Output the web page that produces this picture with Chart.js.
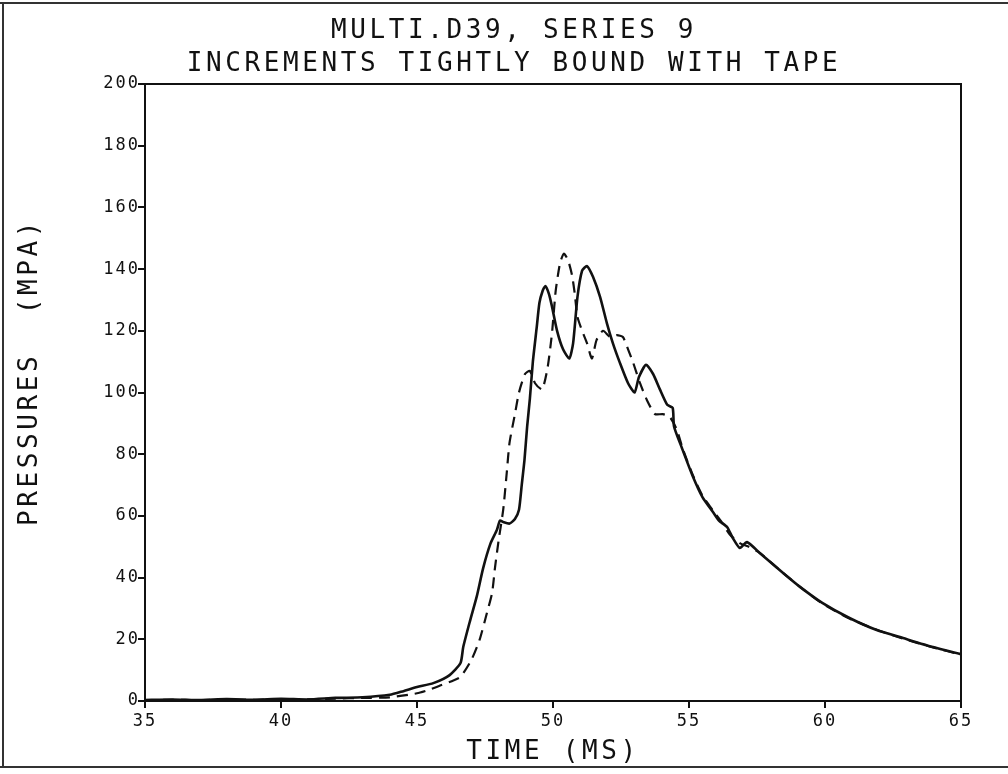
<!DOCTYPE html>
<html>
<head>
<meta charset="utf-8">
<script src="https://cdn.jsdelivr.net/npm/chart.js@4/dist/chart.umd.min.js"></script>
<style>
  html, body { margin: 0; padding: 0; background: #fff; }
  #wrap { width: 1008px; height: 774px; position: relative; }
</style>
</head>
<body>
<div id="wrap"><canvas id="plot" width="1008" height="774"></canvas></div>
<script>
/* ── data ── */
const titleLines = ['MULTI.D39, SERIES 9', 'INCREMENTS TIGHTLY BOUND WITH TAPE'];
const xLabel = 'TIME (MS)';
const yLabel = 'PRESSURES  (MPA)';

const xTicks = [35, 40, 45, 50, 55, 60, 65];
const yTicks = [0, 20, 40, 60, 80, 100, 120, 140, 160, 180, 200];

/* solid trace */
const solidT = [35, 36, 37, 38, 39, 40, 41, 42, 43, 44, 44.5, 45, 45.6, 46.2, 46.6, 46.7, 46.95,
  47.2, 47.43, 47.7, 47.94, 48.05, 48.17, 48.4, 48.6, 48.75, 48.85, 48.95, 49.05, 49.15, 49.26,
  49.4, 49.5, 49.62, 49.72, 49.85, 49.96, 50.15, 50.37, 50.6, 50.74, 50.9, 51.07, 51.25, 51.47,
  51.73, 51.98, 52.2, 52.46, 52.76, 53.0, 53.16, 53.42, 53.68, 53.93, 54.2, 54.4, 54.45, 54.74,
  55.15, 55.5, 55.9, 56.1, 56.4, 56.6, 56.87, 57.13, 57.6, 58.46, 59.08, 59.9, 60.9, 61.9,
  62.87, 63.97, 65];
const solidP = [0.3, 0.5, 0.3, 0.6, 0.4, 0.7, 0.5, 1.0, 1.2, 2.0, 3.2, 4.5, 5.8, 8.4, 12.3, 17.5, 26,
  34, 43, 51, 55.5, 58.5, 58, 57.5, 59, 62, 70, 78, 89, 98, 110,
  121, 129, 133, 134.5, 132, 128, 120, 114, 111, 116, 131, 139.5, 141, 137.5,
  131, 122.5, 116, 109.6, 103, 100, 105, 109, 106, 101, 96, 95, 89, 82,
  72.6, 66, 61, 58.5, 56.4, 53, 49.6, 51.5, 48, 41.5, 37, 31.8, 26.9, 23,
  20.4, 17.5, 15.2];

/* dashed trace */
const dashT = [35, 36, 37, 38, 39, 40, 41, 42, 43, 44, 45, 45.5, 45.85, 46.3, 46.6, 47.0, 47.3,
  47.57, 47.76, 47.87, 48.0, 48.17, 48.3, 48.4, 48.6, 48.75, 48.97, 49.15, 49.34, 49.6, 49.8,
  49.96, 50.1, 50.26, 50.4, 50.55, 50.7, 50.8, 50.9, 51.07, 51.25, 51.43, 51.6, 51.84, 52.1,
  52.35, 52.57, 52.76, 52.95, 53.2, 53.45, 53.75, 54.04, 54.3, 54.55, 54.78, 55.15, 55.5, 55.9,
  56.2, 56.5, 56.9, 57.2, 57.6, 58.46, 59.08, 59.9, 60.9, 61.9, 62.87, 63.97, 65];
const dashP = [0.2, 0.4, 0.3, 0.5, 0.4, 0.6, 0.5, 0.8, 1.0, 1.2, 2.5, 3.8, 5, 6.5, 7.8, 13.3, 19.8,
  28.5, 35, 43.4, 52, 62, 74, 83.6, 93, 100, 106, 107, 103, 101, 108,
  119, 133, 142, 145, 143, 138, 132, 124.5, 120, 116, 111, 117, 120, 118,
  118.6, 118, 114, 109.6, 103, 97.6, 93, 93, 92, 88, 81.5, 73, 66.5, 61.5,
  58, 54, 51, 50, 48, 41.5, 37, 31.6, 26.7, 23.1, 20.2, 17.4, 15];

const toXY = (ts, ps) => ts.map((t, i) => ({ x: t, y: ps[i] }));

const plotFont = '"DejaVu Sans Mono", monospace';

/* wider letter spacing for the axis numbers (plotter look) */
const spacing = {
  id: 'spacing',
  beforeDraw(chart) { chart.ctx.letterSpacing = '2px'; },
};

/* titles, axis names and the outer frame */
const decor = {
  id: 'decor',
  afterDraw(chart) {
    const { ctx, chartArea: a } = chart;
    ctx.save();
    ctx.fillStyle = '#111';
    ctx.textAlign = 'center';
    ctx.textBaseline = 'middle';
    ctx.font = '26px ' + plotFont;
    ctx.letterSpacing = '3.6px';
    ctx.fillText(titleLines[0], 514, 31);
    ctx.fillText(titleLines[1], 514, 64);
    ctx.fillText(xLabel, (a.left + a.right) / 2, 752);

    ctx.translate(30, 372);
    ctx.rotate(-Math.PI / 2);
    ctx.fillText(yLabel, 0, 0);
    ctx.restore();

    /* plot box */
    ctx.save();
    ctx.strokeStyle = '#111';
    ctx.lineWidth = 2;
    ctx.strokeRect(a.left, a.top, a.right - a.left, a.bottom - a.top);

    /* scan border */
    ctx.strokeStyle = '#333';
    ctx.lineWidth = 2;
    ctx.beginPath();
    ctx.moveTo(0, 3); ctx.lineTo(1008, 3);
    ctx.moveTo(0, 767); ctx.lineTo(1008, 767);
    ctx.moveTo(3, 3); ctx.lineTo(3, 767);
    ctx.stroke();
    ctx.restore();
  },
};

new Chart(document.getElementById('plot'), {
  type: 'scatter',
  data: {
    datasets: [
      {
        data: toXY(solidT, solidP),
        showLine: true,
        borderColor: '#111',
        borderWidth: 2.6,
        pointRadius: 0,
        tension: 0.2,
      },
      {
        data: toXY(dashT, dashP),
        showLine: true,
        borderColor: '#111',
        borderWidth: 2.2,
        borderDash: [11, 7],
        pointRadius: 0,
        tension: 0.2,
      },
    ],
  },
  options: {
    responsive: false,
    animation: false,
    devicePixelRatio: 1,
    layout: { padding: { top: 84, right: 47, left: 0, bottom: 0 } },
    plugins: { legend: { display: false }, tooltip: { enabled: false } },
    scales: {
      x: {
        type: 'linear',
        min: 35, max: 65,
        afterBuildTicks: s => { s.ticks = xTicks.map(v => ({ value: v })); },
        afterFit: s => { s.height = 73; },
        grid: { drawOnChartArea: false, drawTicks: true, tickLength: 7, color: '#111', lineWidth: 2 },
        border: { color: '#111', width: 2 },
        ticks: { color: '#111', font: { family: plotFont, size: 17 }, padding: 3, maxRotation: 0 },
      },
      y: {
        min: 0, max: 200,
        afterBuildTicks: s => { s.ticks = yTicks.map(v => ({ value: v })); },
        afterFit: s => { s.width = 145; },
        grid: { drawOnChartArea: false, drawTicks: true, tickLength: 7, color: '#111', lineWidth: 2 },
        border: { color: '#111', width: 2 },
        ticks: { color: '#111', font: { family: plotFont, size: 17 }, padding: -2 },
      },
    },
  },
  plugins: [spacing, decor],
});
</script>
</body>
</html>
